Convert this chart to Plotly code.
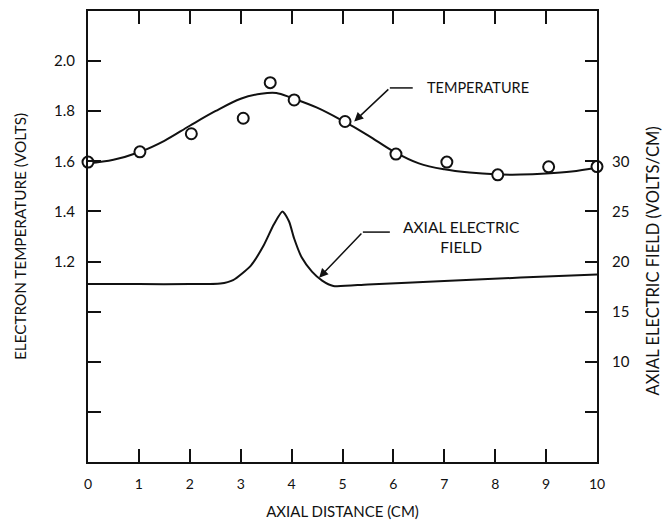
import plotly.graph_objects as go

# ---- data ----
temp_pts_x = [0.0, 1.02, 2.03, 3.05, 3.58, 4.05, 5.05, 6.05, 7.05, 8.05, 9.05, 10.0]
temp_pts_y = [1.597, 1.638, 1.710, 1.772, 1.914, 1.845, 1.759, 1.629, 1.597, 1.546, 1.578, 1.579]

temp_curve_x = [0.0, 0.5, 1.0, 1.5, 2.0, 2.5, 3.0, 3.4, 3.7, 4.0, 4.5, 5.0, 5.5, 6.0,
                6.5, 7.0, 7.5, 8.0, 8.5, 9.0, 9.5, 10.0]
temp_curve_y = [1.592, 1.606, 1.636, 1.682, 1.742, 1.800, 1.850, 1.870, 1.873, 1.853,
                1.814, 1.762, 1.704, 1.640, 1.592, 1.568, 1.555, 1.548, 1.547, 1.551,
                1.559, 1.574]

field_x = [0.0, 1.0, 2.0, 2.6, 2.85, 3.2, 3.45, 3.65, 3.82, 3.95, 4.05, 4.2, 4.4, 4.6,
           4.82, 5.5, 7.0, 8.5, 10.0]
field_y = [17.75, 17.75, 17.75, 17.8, 18.15, 19.6, 21.6, 23.7, 25.0, 24.0, 22.3, 20.4,
           19.0, 18.1, 17.56, 17.72, 18.05, 18.4, 18.72]

x_ticks = list(range(0, 11))
y_left_ticks = [0.4, 0.6, 0.8, 1.0, 1.2, 1.4, 1.6, 1.8, 2.0, 2.2]
y_left_labels = ["", "", "", "", "1.2", "1.4", "1.6", "1.8", "2.0", ""]
y_right_ticks = [0, 5, 10, 15, 20, 25, 30, 35, 40, 45]
y_right_labels = ["", "", "10", "15", "20", "25", "30", "", "", ""]

FONT = "Lato"
INK = "#111111"

fig = go.Figure()

fig.add_trace(go.Scatter(
    x=temp_curve_x, y=temp_curve_y, mode="lines",
    line=dict(color=INK, width=2, shape="spline", smoothing=1.0),
    yaxis="y", showlegend=False, hoverinfo="skip"))

fig.add_trace(go.Scatter(
    x=field_x, y=field_y, mode="lines",
    line=dict(color=INK, width=2, shape="spline", smoothing=0.6),
    yaxis="y2", showlegend=False, hoverinfo="skip"))

fig.add_trace(go.Scatter(
    x=temp_pts_x, y=temp_pts_y, mode="markers",
    marker=dict(symbol="circle", size=11, color="white", line=dict(color=INK, width=2)),
    yaxis="y", showlegend=False, cliponaxis=False))

fig.update_layout(
    width=664, height=527,
    margin=dict(l=88, r=67, t=9, b=61),
    paper_bgcolor="white", plot_bgcolor="white",
    font=dict(family=FONT, size=14, color=INK),
    xaxis=dict(
        range=[0, 10], tickvals=x_ticks, ticktext=[str(v) for v in x_ticks],
        ticks="inside", ticklen=13, tickwidth=1.5, tickcolor=INK,
        showline=True, linewidth=2, linecolor=INK, mirror="ticks",
        showgrid=False, zeroline=False, ticklabelstandoff=8,
        tickfont=dict(size=14),
        title=dict(text="AXIAL DISTANCE (CM)", standoff=16, font=dict(size=15)),
    ),
    yaxis=dict(
        range=[0.4, 2.2], tickvals=y_left_ticks, ticktext=y_left_labels,
        ticks="inside", ticklen=13, tickwidth=1.5, tickcolor=INK,
        showline=True, linewidth=2, linecolor=INK,
        showgrid=False, zeroline=False, ticklabelstandoff=8,
        tickfont=dict(size=15),
        title=dict(text="ELECTRON TEMPERATURE (VOLTS)", standoff=24, font=dict(size=15.3)),
    ),
    yaxis2=dict(
        range=[0, 45], tickvals=y_right_ticks, ticktext=y_right_labels,
        overlaying="y", side="right",
        ticks="inside", ticklen=12, tickwidth=1.5, tickcolor=INK,
        showline=True, linewidth=2, linecolor=INK,
        showgrid=False, zeroline=False, ticklabelstandoff=10,
        tickfont=dict(size=15),
    ),
)

# right-axis title (sits slightly below centre in the reference)
fig.add_annotation(
    text="AXIAL ELECTRIC FIELD (VOLTS/CM)", textangle=-90,
    xref="paper", yref="paper", x=1.11, y=0.447, xanchor="center", yanchor="middle",
    showarrow=False, font=dict(size=16.5))

# TEMPERATURE label with leader
fig.add_annotation(
    text="TEMPERATURE", xref="x", yref="y", x=6.62, y=1.893,
    xanchor="left", yanchor="middle", showarrow=False, font=dict(size=14.5))
fig.add_shape(type="line", xref="x", yref="y", x0=5.93, y0=1.893, x1=6.38, y1=1.893,
              line=dict(color=INK, width=1.5))
fig.add_annotation(
    text="", xref="x", yref="y", x=5.23, y=1.759, axref="x", ayref="y", ax=5.93, ay=1.893,
    showarrow=True, arrowhead=2, arrowsize=1.2, arrowwidth=1.5, arrowcolor=INK, standoff=0)

# AXIAL ELECTRIC FIELD label with leader
fig.add_annotation(
    text="AXIAL ELECTRIC<br>FIELD", xref="x", yref="y2", x=7.33, y=22.5,
    xanchor="center", yanchor="middle", showarrow=False, align="center",
    font=dict(size=15.5))
fig.add_shape(type="line", xref="x", yref="y2", x0=5.40, y0=22.94, x1=5.93, y1=22.94,
              line=dict(color=INK, width=1.5))
fig.add_annotation(
    text="", xref="x", yref="y2", x=4.54, y=18.39, axref="x", ayref="y2", ax=5.40, ay=22.94,
    showarrow=True, arrowhead=2, arrowsize=1.2, arrowwidth=1.5, arrowcolor=INK, standoff=0)

fig.write_html("out.html")
